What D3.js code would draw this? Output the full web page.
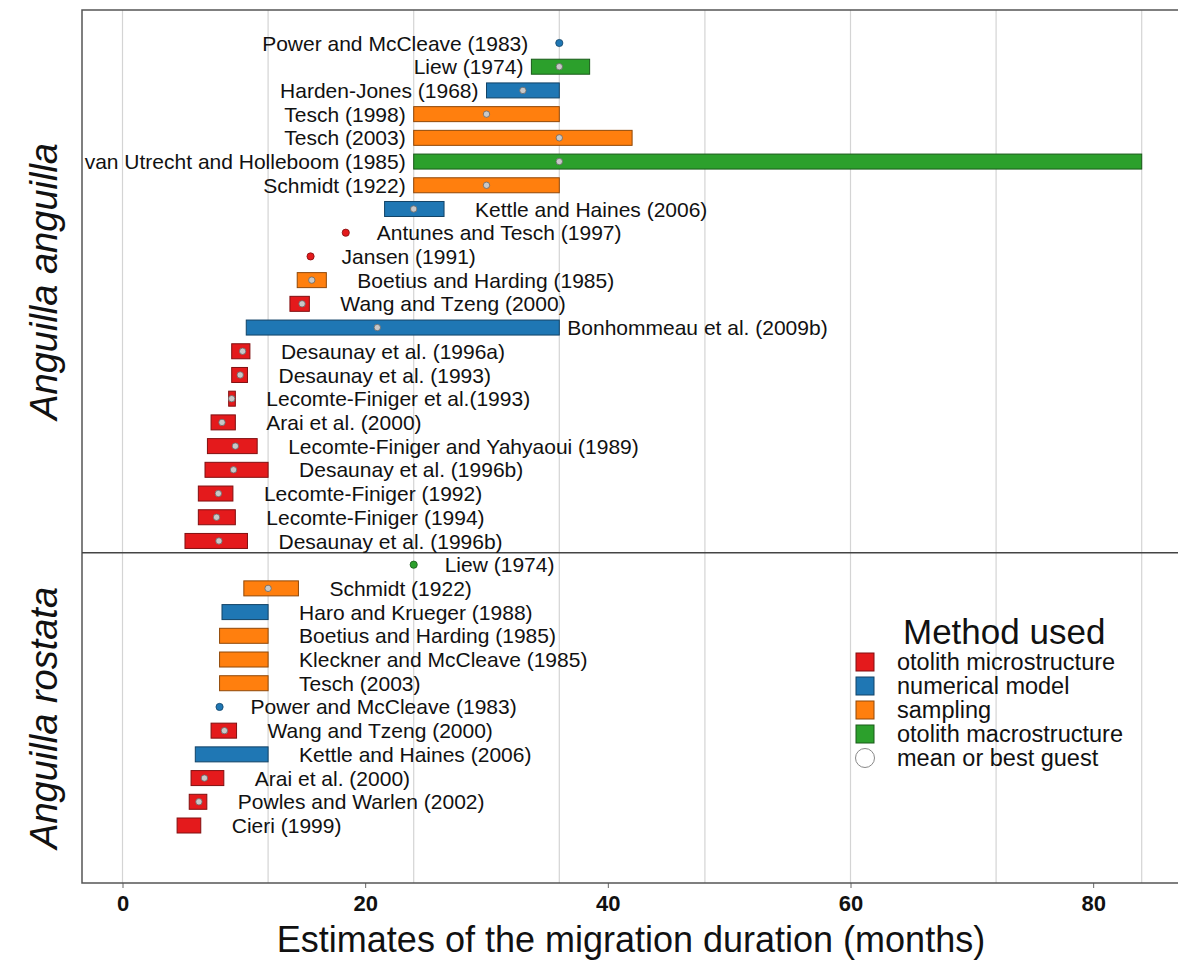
<!DOCTYPE html>
<html>
<head>
<meta charset="utf-8">
<script src="https://cdn.jsdelivr.net/npm/d3@7"></script>
<style>
  body { margin: 0; background: #fff; }
  text { font-family: "Liberation Sans", Arial, sans-serif; fill: #111; }
</style>
</head>
<body>
<svg id="chart" width="1178" height="960"></svg>
<script>
// studies, top to bottom (first 22: A. anguilla, last 12: A. rostrata)
const studies = [
  "Power and McCleave (1983)", "Liew (1974)", "Harden-Jones (1968)", "Tesch (1998)",
  "Tesch (2003)", "van Utrecht and Holleboom (1985)", "Schmidt (1922)",
  "Kettle and Haines (2006)", "Antunes and Tesch (1997)", "Jansen (1991)",
  "Boetius and Harding (1985)", "Wang and Tzeng (2000)", "Bonhommeau et al. (2009b)",
  "Desaunay et al. (1996a)", "Desaunay et al. (1993)", "Lecomte-Finiger et al.(1993)",
  "Arai et al. (2000)", "Lecomte-Finiger and Yahyaoui (1989)", "Desaunay et al. (1996b)",
  "Lecomte-Finiger (1992)", "Lecomte-Finiger (1994)", "Desaunay et al. (1996b)",
  "Liew (1974)", "Schmidt (1922)", "Haro and Krueger (1988)", "Boetius and Harding (1985)",
  "Kleckner and McCleave (1985)", "Tesch (2003)", "Power and McCleave (1983)",
  "Wang and Tzeng (2000)", "Kettle and Haines (2006)", "Arai et al. (2000)",
  "Powles and Warlen (2002)", "Cieri (1999)"
];
const methods = [
  "model", "macro", "model", "sampling", "sampling", "macro", "sampling",
  "model", "micro", "micro", "sampling", "micro", "model",
  "micro", "micro", "micro", "micro", "micro", "micro", "micro", "micro", "micro",
  "macro", "sampling", "model", "sampling", "sampling", "sampling", "model",
  "micro", "model", "micro", "micro", "micro"
];
// range of the estimate in months (null = single value)
const lowMonths = [
  null, 33.7, 30, 24, 24, 24, 24, 21.6, null, null, 14.4, 13.8, 10.2,
  9.0, 9.0, 8.75, 7.3, 7.0, 6.8, 6.25, 6.25, 5.15,
  null, 10, 8.2, 8, 8, 8, null, 7.3, 6, 5.65, 5.5, 4.5
];
const highMonths = [
  null, 38.5, 36, 36, 42, 84, 36, 26.5, null, null, 16.8, 15.4, 36,
  10.5, 10.3, 9.3, 9.3, 11.1, 12.0, 9.1, 9.3, 10.3,
  null, 14.5, 12, 12, 12, 12, null, 9.4, 12, 8.35, 6.95, 6.45
];
// mean or best guest (null = none shown)
const bestMonths = [
  36, 36, 33, 30, 36, 36, 30, 24, 18.4, 15.5, 15.6, 14.8, 21,
  9.9, 9.7, 9.0, 8.2, 9.3, 9.15, 7.9, 7.75, 7.95,
  24, 12, null, null, null, null, 8, 8.4, null, 6.75, 6.3, null
];
const labelOnLeft = studies.map((d, i) => i < 7);

const species = ["Anguilla anguilla", "Anguilla rostata"];

const methodKeys = ["micro", "model", "sampling", "macro"];
const methodNames = ["otolith microstructure", "numerical model", "sampling", "otolith macrostructure"];
const methodColors = ["#e41a1c", "#1f77b4", "#ff7f0e", "#2ca02c"];
const meanLegend = "mean or best guest";

const gridMonths = d3.range(0, 85, 12);
const tickMonths = [0, 20, 40, 60, 80];
const axisTitle = "Estimates of the migration duration (months)";

const svg = d3.select("#chart");
const box = { left: 82, right: 1177, top: 10, bottom: 883 };

const x = d3.scaleLinear().domain([0, 84]).range([122.5, 1141.7]);
const y = d3.scaleLinear().domain([0, 33]).range([43, 825.5]);
const color = d3.scaleOrdinal().domain(methodKeys).range(methodColors);
const dark = c => d3.color(c).darker(1.6).formatHex();

// grid
svg.append("g").selectAll("line").data(gridMonths).join("line")
  .attr("x1", d => x(d)).attr("x2", d => x(d))
  .attr("y1", box.top).attr("y2", box.bottom)
  .attr("stroke", "#d4d4d4").attr("stroke-width", 1.2);

// x axis
const ax = svg.append("g").attr("transform", `translate(0,${box.bottom})`)
  .call(d3.axisBottom(x).tickValues(tickMonths).tickSize(5).tickPadding(7));
ax.select(".domain").remove();
ax.selectAll(".tick line").attr("stroke", "#666");
ax.selectAll(".tick text").attr("font-size", 22).attr("font-weight", "bold")
  .attr("font-family", "'Liberation Sans', Arial, sans-serif").attr("fill", "#111");

// frame
svg.append("rect").attr("x", box.left).attr("y", box.top)
  .attr("width", box.right - box.left + 10).attr("height", box.bottom - box.top)
  .attr("fill", "none").attr("stroke", "#555").attr("stroke-width", 1.5);
svg.append("line").attr("x1", box.left).attr("x2", 1178)
  .attr("y1", y(21.5)).attr("y2", y(21.5))
  .attr("stroke", "#444").attr("stroke-width", 1.5);

const rows = studies.map((s, i) => ({
  i, s, m: methods[i], lo: lowMonths[i], hi: highMonths[i], best: bestMonths[i], left: labelOnLeft[i]
}));
const barH = 15;

const g = svg.append("g");
// bars
g.selectAll("rect.bar").data(rows.filter(d => d.lo != null)).join("rect")
  .attr("class", "bar")
  .attr("x", d => x(d.lo)).attr("width", d => x(d.hi) - x(d.lo))
  .attr("y", d => y(d.i) - barH / 2).attr("height", barH)
  .attr("fill", d => color(d.m)).attr("stroke", d => dark(color(d.m))).attr("stroke-width", 1);

// single values
g.selectAll("circle.pt").data(rows.filter(d => d.lo == null)).join("circle")
  .attr("class", "pt")
  .attr("cx", d => x(d.best)).attr("cy", d => y(d.i)).attr("r", 3.6)
  .attr("fill", d => color(d.m)).attr("stroke", d => dark(color(d.m))).attr("stroke-width", 0.8);

// means on bars
g.selectAll("circle.mean").data(rows.filter(d => d.lo != null && d.best != null)).join("circle")
  .attr("class", "mean")
  .attr("cx", d => x(d.best)).attr("cy", d => y(d.i)).attr("r", 3.2)
  .attr("fill", "#c8c8c8").attr("stroke", "#666").attr("stroke-width", 0.8);

// labels
g.selectAll("text.lab").data(rows).join("text")
  .attr("class", "lab")
  .attr("font-size", 21)
  .attr("dy", "0.36em")
  .attr("y", d => y(d.i))
  .attr("text-anchor", d => d.left ? "end" : "start")
  .attr("x", d => {
    const hasBar = d.lo != null;
    const tight = hasBar && (d.left || d.hi >= 36);
    const gap = tight ? 8 : 31;
    if (d.left) return x(hasBar ? d.lo : d.best) - gap;
    return x(hasBar ? d.hi : d.best) + gap;
  })
  .text(d => d.s);

// species labels
svg.append("g").selectAll("text").data(species).join("text")
  .attr("transform", (d, k) => {
    const cy = k === 0 ? (box.top + y(21.5)) / 2 : (y(21.5) + box.bottom) / 2;
    return `translate(44,${cy}) rotate(-90)`;
  })
  .attr("text-anchor", "middle").attr("dy", "0.35em")
  .attr("font-size", 38).attr("font-style", "italic")
  .text(d => d);

// axis title
svg.append("text").attr("x", 631).attr("y", 952)
  .attr("text-anchor", "middle").attr("font-size", 36).text(axisTitle);

// legend
const lg = svg.append("g").attr("transform", "translate(856,0)");
lg.append("text").attr("x", 47).attr("y", 644).attr("font-size", 35).text("Method used");
const items = lg.selectAll("g.item").data(methodKeys).join("g")
  .attr("class", "item")
  .attr("transform", (d, k) => `translate(0,${662 + k * 24})`);
items.append("rect").attr("x", 0).attr("y", -9).attr("width", 18).attr("height", 18)
  .attr("fill", d => color(d)).attr("stroke", d => dark(color(d))).attr("stroke-width", 1);
items.append("text").attr("x", 41).attr("dy", "0.35em").attr("font-size", 23.5)
  .text((d, k) => methodNames[k]);
const mi = lg.append("g").attr("transform", `translate(0,${662 + 4 * 24})`);
mi.append("circle").attr("cx", 9).attr("cy", 0).attr("r", 9.5)
  .attr("fill", "#fff").attr("stroke", "#888").attr("stroke-width", 1);
mi.append("text").attr("x", 41).attr("dy", "0.35em").attr("font-size", 23.5).text(meanLegend);
</script>
</body>
</html>
